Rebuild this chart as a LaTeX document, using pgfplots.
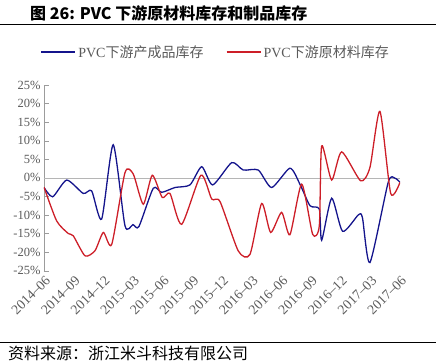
\documentclass[border=0pt]{standalone}
\usepackage{pgfplots}
\pgfplotsset{compat=1.18}
\usepackage{fontspec}
\setmainfont{Liberation Serif}
\newfontfamily\cjk{Noto Sans CJK SC}
\definecolor{ser1}{RGB}{20,20,140}
\definecolor{ser2}{RGB}{205,30,40}
\definecolor{tk}{RGB}{90,90,90}
\begin{document}
\begin{tikzpicture}[x=1pt,y=1pt]
\useasboundingbox (0,0) rectangle (436,363);
\node[anchor=west,inner sep=0] at (30,350) {\fontsize{16}{16}\selectfont\cjk\bfseries 图 26: PVC 下游原材料库存和制品库存};
\draw[line width=1pt] (0,338) -- (436,338);
\draw[line width=0.8pt] (0,21) -- (436,21);
\node[anchor=west,inner sep=0] at (8,10) {\fontsize{16}{16}\selectfont\cjk 资料来源：浙江米斗科技有限公司};
\begin{axis}[
  at={(44pt,92.3pt)}, anchor=south west,
  scale only axis, width=356pt, height=185.7pt,
  xmin=0, xmax=36, ymin=-25, ymax=25,
  axis lines=left,
  x axis line style={draw=none},
  y axis line style={draw=tk!60,-},
  tick align=inside,
  major tick length=5pt,
  ytick={-25,-20,...,25},
  yticklabels={-25\%,-20\%,-15\%,-10\%,-5\%,0\%,5\%,10\%,15\%,20\%,25\%},
  ytick style={draw=tk!60},
  yticklabel style={font=\fontsize{12.5}{12.5}\selectfont, text=tk},
  xtick={0,3,...,36},
  xticklabels={2014--06,2014--09,2014--12,2015--03,2015--06,2015--09,2015--12,2016--03,2016--06,2016--09,2016--12,2017--03,2017--06},
  xtick style={draw=none},
  xticklabel style={font=\fontsize{13.8}{13.8}\selectfont, text=tk, rotate=45, anchor=east, yshift=-8pt, xshift=1pt},
  legend style={draw=none, fill=none, at={(rel axis cs:-0.011,1.178)}, anchor=west, legend columns=2,
    font=\fontsize{14}{14}\selectfont, text=tk, inner sep=0pt,
    /tikz/every even column/.append style={column sep=20pt}},
  legend image code/.code={\draw[#1, line width=2pt] (0pt,0pt) -- (34pt,0pt);},
]
\draw[tk!45] (axis cs:0,0) -- (axis cs:36,0);
\addplot[ser1, line width=1.3pt, smooth, tension=0.4] coordinates {
(0,-2.6)(0.88,-5.1)(2.3,-0.6)(3.97,-4.2)(4.82,-3.5)(5.83,-11.1)(7.0,8.9)(8.19,-12.9)(9.0,-12.6)(9.6,-13.1)(11.05,-2.8)(11.9,-3.9)(13.25,-2.6)(14.76,-1.9)(15.95,3.0)(17.06,-1.9)(18.98,4.1)(20.15,2.1)(21.67,2.1)(23.02,-2.6)(24.87,2.6)(25.88,-1.7)(26.9,-7.5)(27.84,-8.4)(28.08,-16.8)(29.09,-5.5)(30.2,-14.4)(31.78,-10)(32.2,-10.7)(32.96,-22.8)(34.81,-1.2)(35.49,-0.1)(36,-1.2)};
\addlegendentry{PVC{\cjk 下游产成品库存}}
\addplot[ser2, line width=1.3pt, smooth, tension=0.4] coordinates {
(0,-2.5)(1.28,-11.6)(2.46,-15)(2.96,-15.6)(4.15,-21)(5.16,-19.6)(6.0,-14.7)(6.85,-17.9)(8.19,1.4)(9.03,1.0)(10.04,-7.1)(10.95,0.7)(11.96,-5.3)(12.74,-4.2)(13.92,-12.5)(15.87,0.7)(16.96,-5.7)(17.8,-6.4)(19.65,-19.7)(20.83,-20.6)(22.01,-6.9)(22.92,-14.7)(24.03,-9.3)(24.87,-15.3)(26.06,-1.7)(27.17,-15.2)(27.84,-12.9)(28.08,8.6)(29.09,-0.6)(30.1,7.0)(32.02,-0.8)(32.96,2.8)(33.97,17.9)(35.06,-4.2)(36,-1.2)};
\addlegendentry{PVC{\cjk 下游原材料库存}}
\end{axis}
\end{tikzpicture}
\end{document}
